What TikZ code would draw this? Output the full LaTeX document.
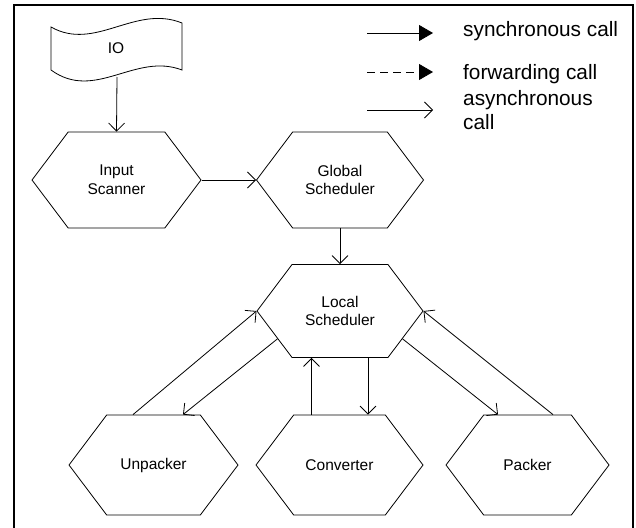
\documentclass[tikz,border=0pt]{standalone}
\usepackage{fontspec}
\setmainfont{Liberation Sans}
\usetikzlibrary{arrows.meta,shapes.symbols,calc}
\begin{document}
\begin{tikzpicture}[x=1pt,y=-1pt,
  hexa/.style={signal, signal to=east and west, signal pointer angle=106,
    draw, line width=0.8pt, inner sep=0pt, align=center,
    font=\fontsize{15.5pt}{18.7pt}\selectfont},
  async/.style={-{Straight Barb[length=8pt,width=16pt]}, line width=0.8pt},
  sync/.style={-{Triangle[length=14pt,width=16pt]}, line width=0.8pt},
  fwd/.style={sync, dash pattern=on 8pt off 5pt},
  legtext/.style={inner sep=0pt, align=left,
    font=\fontsize{20.8pt}{24pt}\selectfont},
  frame/.style={line width=2pt}]
\useasboundingbox (0,0) rectangle (636,527);
% frame
\draw[frame] (14,535) -- (14,5) -- (633,5) -- (633,535);
% IO tape
\draw[line width=0.8pt] (51,27) .. controls (95,52) and (135,4) .. (182,23)
  -- (182,70) .. controls (135,52) and (95,102) .. (51,70) -- cycle;
\node[inner sep=0pt, font=\fontsize{15.5pt}{18.7pt}\selectfont] (io) at (116,48) {IO};
\coordinate (iobot) at (117,77);
% hexagons
\node[hexa, minimum width=169pt, minimum height=96pt] (inp) at (116.5,180) {Input\\Scanner};
\node[hexa, minimum width=167pt, minimum height=96pt] (glob) at (340,180) {Global\\Scheduler};
\node[hexa, minimum width=166pt, minimum height=93pt] (loc) at (340,311) {Local\\Scheduler};
\node[hexa, minimum width=169pt, minimum height=100pt] (unp) at (153.5,465) {Unpacker};
\node[hexa, minimum width=167pt, minimum height=100pt] (conv) at (339.5,465) {Converter};
\node[hexa, minimum width=163pt, minimum height=100pt] (pack) at (527.5,465) {Packer};
% connectors
\draw[async] (iobot) -- (inp.north);
\draw[async] (inp.east) -- (glob.west);
\draw[async] (glob.south) -- (loc.north);
\draw[async] ([xshift=-20.5pt]unp.north) -- (loc.west);
\draw[async] (loc.204.7) -- ([xshift=29.5pt]unp.north);
\draw[async] ([xshift=-28pt]conv.north) -- ([xshift=-28pt]conv.north |- loc.south);
\draw[async] ([xshift=28pt]loc.south) -- ([xshift=28pt]loc.south |- conv.north);
\draw[async] (loc.-24.7) -- ([xshift=-29.5pt]pack.north);
\draw[async] ([xshift=25.5pt]pack.north) -- (loc.east);
% legend
\coordinate (l1a) at (367,33); \coordinate (l1b) at (433,33);
\coordinate (l2a) at (367,72); \coordinate (l2b) at (433,72);
\coordinate (l3a) at (367,110); \coordinate (l3b) at (433,110);
\draw[sync] (l1a) -- (l1b);
\draw[fwd] (l2a) -- (l2b);
\draw[async] (l3a) -- (l3b);
\node[legtext, anchor=base west] (t1) at (463,36.5) {synchronous call};
\node[legtext, anchor=base west] (t2) at (463,79.3) {forwarding call};
\node[legtext, anchor=west] (t3) at (463,110.4) {asynchronous\\call};
\end{tikzpicture}
\end{document}
